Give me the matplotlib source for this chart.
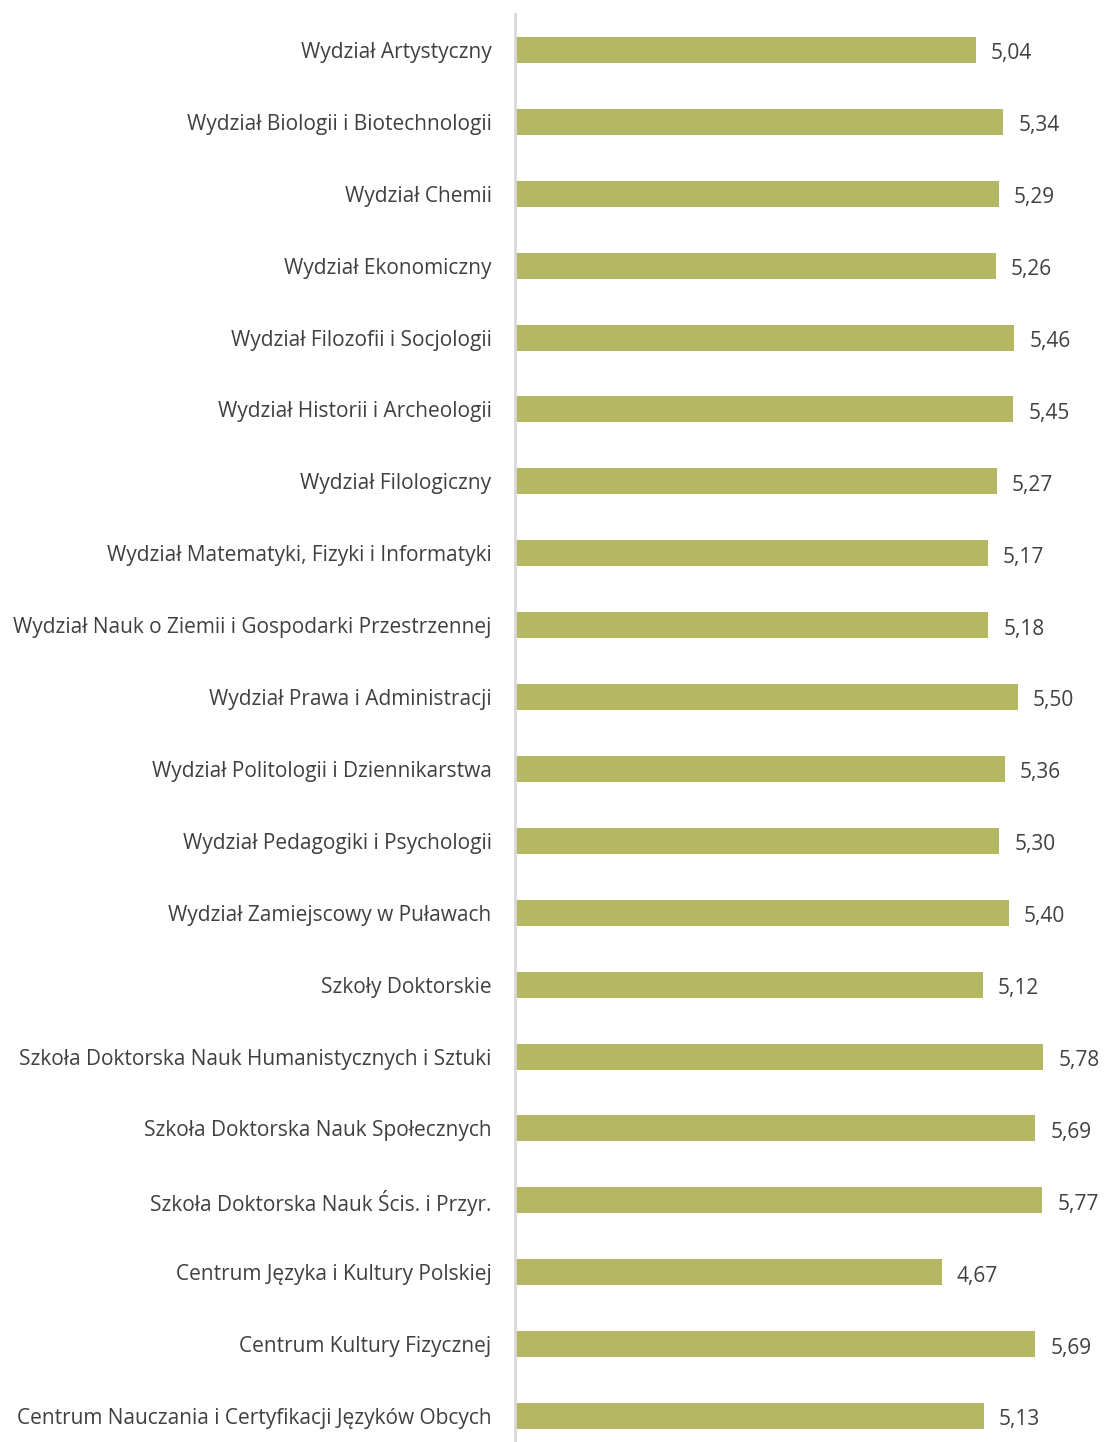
import numpy as np
import matplotlib.pyplot as plt

labels = [
    "Wydział Artystyczny",
    "Wydział Biologii i Biotechnologii",
    "Wydział Chemii",
    "Wydział Ekonomiczny",
    "Wydział Filozofii i Socjologii",
    "Wydział Historii i Archeologii",
    "Wydział Filologiczny",
    "Wydział Matematyki, Fizyki i Informatyki",
    "Wydział Nauk o Ziemii i Gospodarki Przestrzennej",
    "Wydział Prawa i Administracji",
    "Wydział Politologii i Dziennikarstwa",
    "Wydział Pedagogiki i Psychologii",
    "Wydział Zamiejscowy w Puławach",
    "Szkoły Doktorskie",
    "Szkoła Doktorska Nauk Humanistycznych i Sztuki",
    "Szkoła Doktorska Nauk Społecznych",
    "Szkoła Doktorska Nauk Ścis. i Przyr.",
    "Centrum Języka i Kultury Polskiej",
    "Centrum Kultury Fizycznej",
    "Centrum Nauczania i Certyfikacji Języków Obcych",
]
values = [5.04, 5.34, 5.29, 5.26, 5.46, 5.45, 5.27, 5.17, 5.18, 5.50,
          5.36, 5.30, 5.40, 5.12, 5.78, 5.69, 5.77, 4.67, 5.69, 5.13]

plt.rcParams['font.family'] = ['Open Sans', 'DejaVu Sans']

W, H = 1104, 1442
fig = plt.figure(figsize=(W / 100, H / 100), dpi=100)

# axes placed in pixel terms: left edge at the category axis line
spacing = (1416 - 50) / 19
top_px = 50 - spacing / 2
bot_px = 1416 + spacing / 2
left_px = 514.5
ax = fig.add_axes([left_px / W, 1 - bot_px / H, (W - left_px) / W, (bot_px - top_px) / H])

y = np.arange(len(labels))
ax.barh(y, values, height=26 / spacing, color="#B5B862")
ax.set_ylim(len(labels) - 0.5, -0.5)
ax.set_xlim(0, (W - left_px) / 91.5)

for yi, v in zip(y, values):
    ax.text(v + 0.165, yi + 0.02, f"{v:.2f}".replace(".", ","), va="center_baseline", ha="left",
            fontsize=15, color="#404040")

ax.set_yticks(y)
ax.set_yticklabels(labels, fontsize=15, color="#404040")
ax.tick_params(axis="y", length=0, pad=16.5)
ax.set_xticks([])
for s in ["top", "right", "bottom"]:
    ax.spines[s].set_visible(False)
ax.spines["left"].set_color("#D9D9D9")
ax.spines["left"].set_linewidth(2)

fig.savefig("out.png", dpi=100)
